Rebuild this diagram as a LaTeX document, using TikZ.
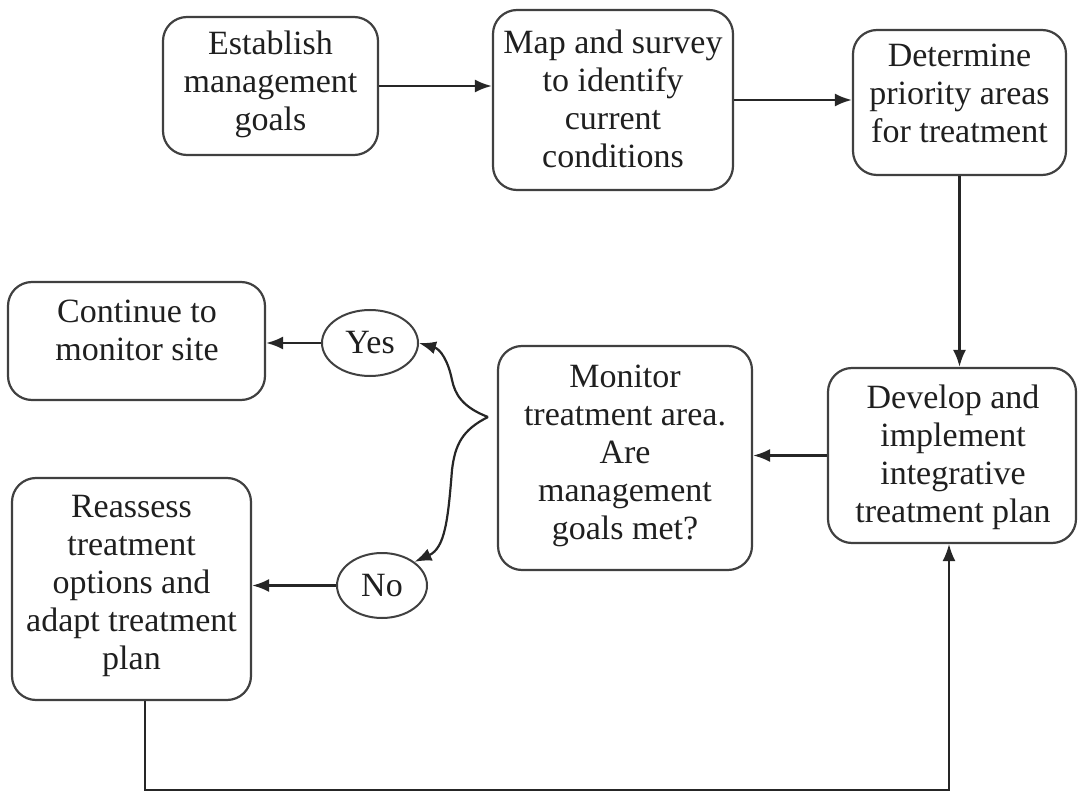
\documentclass[tikz,border=0pt]{standalone}
\usepackage{fontspec}
\setmainfont{Liberation Serif}
\usetikzlibrary{arrows.meta,shapes.geometric}
\begin{document}
\begin{tikzpicture}[x=1pt,y=-1pt,
  box/.style={draw=black!75, line width=2.2pt, rounded corners=24pt, inner sep=0pt},
  txt/.style={align=center, font=\fontsize{34}{38}\selectfont, text=black!88, inner sep=0pt},
  oval/.style={draw=black!75, line width=2pt, ellipse, inner sep=0pt},
  arr/.style={line width=2.4pt, draw=black!85, -{Latex[length=17pt,width=13pt]}}]
\useasboundingbox (0,0) rectangle (1079,794);
% boxes
\node[box, minimum width=215, minimum height=138] (est) at (270.5,86) {};
\node[txt] (estT) at (270.5,84) {Establish\\management\\goals};
\node[box, minimum width=240, minimum height=180] (map) at (613,100) {};
\node[txt] (mapT) at (613,98.5) {Map and survey\\to identify\\current\\conditions};
\node[box, minimum width=213, minimum height=145] (det) at (959.5,102.5) {};
\node[txt] (detT) at (959.5,93) {Determine\\priority areas\\for treatment};
\node[box, minimum width=248, minimum height=175] (dev) at (952,455.5) {};
\node[txt] (devT) at (953,457) {Develop and\\implement\\integrative\\treatment plan};
\node[box, minimum width=254, minimum height=224] (mon) at (625,458) {};
\node[txt] (monT) at (625,456) {Monitor\\treatment area.\\Are\\management\\goals met?};
\node[box, minimum width=257, minimum height=118] (cont) at (136.5,341) {};
\node[txt] (contT) at (137,330) {Continue to\\monitor site};
\node[box, minimum width=239, minimum height=222] (reas) at (131.5,589) {};
\node[txt] (reasT) at (131.5,586) {Reassess\\treatment\\options and\\adapt treatment\\plan};
\node[oval, minimum width=96, minimum height=66] (yes) at (370,343) {};
\node[txt] (yesT) at (370,343) {Yes};
\node[oval, minimum width=90, minimum height=65] (no) at (382,585.5) {};
\node[txt] (noT) at (382,585.5) {No};
% connectors
\draw[arr] (est.east) -- (est.east -| map.west);
\draw[arr] (map.east) -- (map.east -| det.west);
\draw[arr] (det.south) -- (det.south |- dev.north);
\draw[arr] (dev.west) -- (dev.west -| mon.east);
\draw[arr] (yes.west) -- (yes.west -| cont.east);
\draw[arr] (no.west) -- (no.west -| reas.east);
\coordinate (tip) at (488,417);
\draw[arr, line width=2.2pt] (tip) .. controls (462,407) and (455,394) .. (452,380) .. controls (448,360) and (440,349) .. (yes.east);
\draw[arr, line width=2.2pt] (tip) .. controls (462,430) and (455,445) .. (452,470) .. controls (448,520) and (445,548) .. (no.north east);
\coordinate (lp) at (145,790);
\draw[arr, line width=2pt] (reas.south -| lp) -- (lp) -| ([xshift=-3pt]dev.south);
\end{tikzpicture}
\end{document}
